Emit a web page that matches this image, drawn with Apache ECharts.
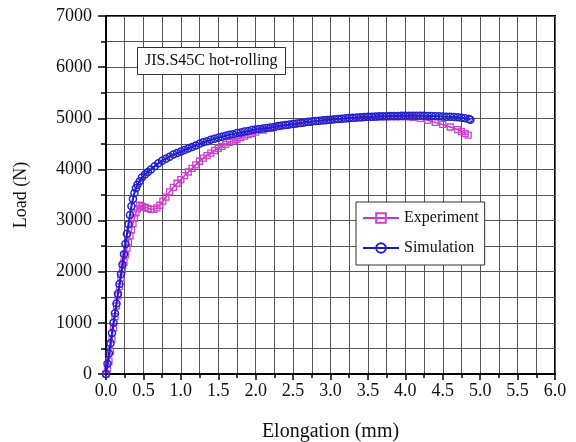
<!DOCTYPE html>
<html>
<head>
<meta charset="utf-8">
<script src="https://cdn.jsdelivr.net/npm/echarts@6/dist/echarts.min.js"></script>
<style>html,body{margin:0;padding:0;background:#fff}#c{width:576px;height:442px}</style>
</head>
<body>
<div id="c"></div>
<script>
var xTicks = ['0.0','0.5','1.0','1.5','2.0','2.5','3.0','3.5','4.0','4.5','5.0','5.5','6.0'];
var yTicks = [0,1000,2000,3000,4000,5000,6000,7000];
var seriesNames = ['Experiment','Simulation'];
var noteText = 'JIS.S45C hot-rolling';

var experiment = [
[0.00,0],[0.02,100],[0.04,250],[0.06,450],[0.08,680],[0.10,900],[0.12,1120],[0.14,1330],
[0.16,1530],[0.18,1710],[0.20,1880],[0.22,2040],[0.24,2190],[0.26,2330],[0.28,2460],[0.30,2580],
[0.32,2700],[0.34,2820],[0.36,2940],[0.38,3050],[0.40,3150],[0.42,3230],[0.45,3300],[0.48,3280],
[0.52,3260],[0.56,3240],[0.60,3220],[0.64,3220],[0.68,3250],[0.72,3300],[0.76,3380],[0.80,3460],
[0.85,3560],[0.90,3650],[0.95,3730],[1.00,3800],[1.05,3880],[1.10,3950],[1.15,4020],[1.20,4090],
[1.25,4160],[1.30,4220],[1.35,4270],[1.40,4320],[1.45,4370],[1.50,4410],[1.55,4450],[1.60,4490],
[1.65,4530],[1.70,4560],[1.75,4590],[1.80,4620],[1.85,4650],[1.90,4680],[1.95,4700],[2.00,4730],
[2.10,4770],[2.20,4810],[2.30,4840],[2.40,4860],[2.50,4880],[2.60,4900],[2.70,4920],[2.80,4940],
[2.90,4950],[3.00,4970],[3.10,4980],[3.20,4990],[3.30,5000],[3.40,5010],[3.50,5020],[3.60,5020],
[3.70,5030],[3.80,5030],[3.90,5030],[4.00,5030],[4.10,5020],[4.20,5000],[4.30,4960],[4.40,4920],
[4.50,4880],[4.60,4830],[4.70,4780],[4.75,4740],[4.80,4700],[4.84,4670]
];

var simulation = [
[0.00,0],[0.02,200],[0.04,400],[0.06,600],[0.08,800],[0.10,1000],[0.12,1190],[0.14,1380],
[0.16,1570],[0.18,1760],[0.20,1950],[0.22,2140],[0.24,2340],[0.26,2540],[0.28,2740],[0.30,2930],
[0.32,3110],[0.34,3280],[0.36,3420],[0.38,3540],[0.40,3630],[0.42,3700],[0.45,3770],[0.48,3840],
[0.52,3900],[0.56,3950],[0.60,4000],[0.65,4060],[0.70,4120],[0.75,4170],[0.80,4210],[0.85,4250],
[0.90,4290],[0.95,4320],[1.00,4350],[1.05,4380],[1.10,4410],[1.15,4440],[1.20,4470],[1.25,4500],
[1.30,4530],[1.35,4550],[1.40,4580],[1.45,4600],[1.50,4620],[1.55,4640],[1.60,4660],[1.65,4680],
[1.70,4690],[1.75,4710],[1.80,4720],[1.85,4740],[1.90,4750],[1.95,4770],[2.00,4780],[2.05,4790],
[2.10,4800],[2.15,4810],[2.20,4820],[2.25,4830],[2.30,4850],[2.35,4860],[2.40,4870],[2.45,4880],
[2.50,4890],[2.55,4900],[2.60,4910],[2.65,4920],[2.70,4930],[2.75,4935],[2.80,4945],[2.85,4950],
[2.90,4960],[2.95,4965],[3.00,4970],[3.05,4980],[3.10,4985],[3.15,4990],[3.20,5000],[3.25,5005],
[3.30,5010],[3.35,5015],[3.40,5020],[3.45,5025],[3.50,5030],[3.55,5030],[3.60,5035],[3.65,5040],
[3.70,5040],[3.75,5040],[3.80,5045],[3.85,5045],[3.90,5045],[3.95,5050],[4.00,5050],[4.05,5050],
[4.10,5050],[4.15,5050],[4.20,5050],[4.25,5050],[4.30,5045],[4.35,5045],[4.40,5040],[4.45,5040],
[4.50,5035],[4.55,5030],[4.60,5030],[4.65,5025],[4.70,5020],[4.75,5010],[4.80,5000],[4.85,4985],
[4.87,4970]
];

var FONT = "'Liberation Serif','Times New Roman',serif";
var gridStyle = {color:'#555', width:1};
var chart = echarts.init(document.getElementById('c'), null, {renderer:'canvas'});
chart.setOption({
  animation:false,
  backgroundColor:'#fff',
  grid:{left:106, right:21, top:16, bottom:68, containLabel:false, outerBoundsMode:'none',
        show:true, borderColor:'#000', borderWidth:2, backgroundColor:'transparent'},
  title:{
    text: noteText, left:137, top:47,
    padding:[6,8,6,8], borderColor:'#333', borderWidth:1, backgroundColor:'#fff',
    textStyle:{fontFamily:FONT, fontSize:16, fontWeight:'normal', color:'#111'}
  },
  legend:{
    data: seriesNames, orient:'vertical', left:356, top:202,
    padding:[8,6,9,6], itemGap:14, itemWidth:36, itemHeight:12,
    borderColor:'#333', borderWidth:1, backgroundColor:'#fff',
    textStyle:{fontFamily:FONT, fontSize:16, color:'#111'}
  },
  xAxis:{
    type:'value', min:0, max:6, interval:0.5,
    name:'Elongation (mm)', nameLocation:'middle', nameGap:48,
    nameTextStyle:{fontFamily:FONT, fontSize:20, color:'#111'},
    axisLine:{show:true, lineStyle:{color:'#000', width:2}},
    axisTick:{show:true, inside:false, length:6, lineStyle:{color:'#000', width:1.5}},
    minorTick:{show:true, splitNumber:2, length:4, lineStyle:{color:'#000', width:1.5}},
    splitLine:{show:true, lineStyle:gridStyle},
    minorSplitLine:{show:true, lineStyle:gridStyle},
    axisLabel:{fontFamily:FONT, fontSize:18, color:'#111', margin:8,
      formatter:function(v){ var i = Math.round(v/0.5); return xTicks[i] || ''; }}
  },
  yAxis:{
    type:'value', min:0, max:7000, interval:1000,
    name:'Load (N)', nameLocation:'middle', nameGap:76,
    nameTextStyle:{fontFamily:FONT, fontSize:18, color:'#111'},
    axisLine:{show:true, lineStyle:{color:'#000', width:2}},
    axisTick:{show:true, inside:false, length:8, lineStyle:{color:'#000', width:1.5}},
    minorTick:{show:true, splitNumber:2, length:5, lineStyle:{color:'#000', width:1.5}},
    splitLine:{show:true, lineStyle:gridStyle},
    minorSplitLine:{show:true, lineStyle:gridStyle},
    axisLabel:{fontFamily:FONT, fontSize:18, color:'#111', margin:14,
      formatter:function(v){ var i = yTicks.indexOf(v); return i>=0 ? String(yTicks[i]) : ''; }}
  },
  series:[
    {
      name: seriesNames[0], type:'line', data: experiment,
      symbol:'rect', symbolSize:6, showSymbol:true,
      lineStyle:{color:'#cc33cc', width:1.5},
      itemStyle:{color:'rgba(255,255,255,0)', borderColor:'#cc44cc', borderWidth:1.3},
      z:3
    },
    {
      name: seriesNames[1], type:'line', data: simulation,
      symbol:'circle', symbolSize:7, showSymbol:true,
      lineStyle:{color:'#1a1acc', width:2},
      itemStyle:{color:'rgba(255,255,255,0)', borderColor:'#2222cc', borderWidth:1.5},
      z:4
    }
  ]
});
</script>
</body>
</html>
